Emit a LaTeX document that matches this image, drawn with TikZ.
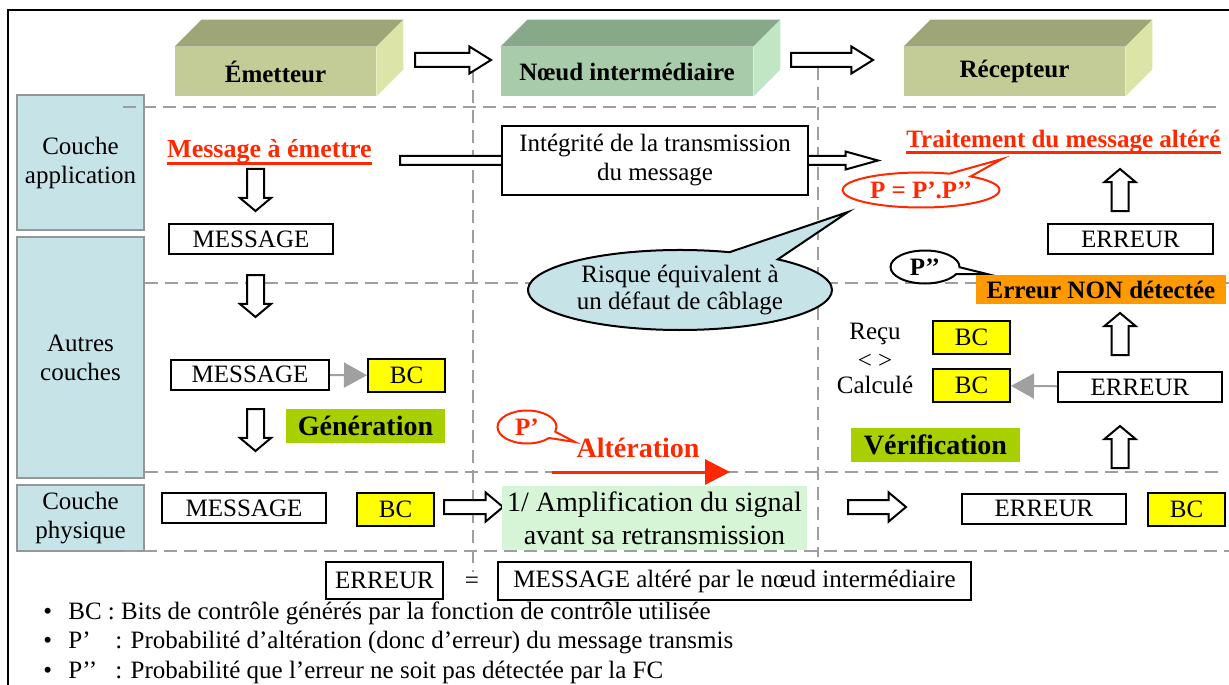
\documentclass[tikz,border=0pt]{standalone}
\usepackage{fontspec}
\setmainfont{Liberation Serif}
\usetikzlibrary{shapes.geometric, shapes.callouts, shapes.arrows, arrows.meta}

\definecolor{layerBlue}{RGB}{198,228,232}
\definecolor{layerGray}{RGB}{150,150,150}
\definecolor{dashGray}{RGB}{158,158,158}
\definecolor{oliveFront}{RGB}{195,204,150}
\definecolor{oliveTop}{RGB}{158,166,120}
\definecolor{oliveSide}{RGB}{221,228,168}
\definecolor{greenFront}{RGB}{168,204,170}
\definecolor{greenTop}{RGB}{136,168,138}
\definecolor{greenSide}{RGB}{192,230,196}
\definecolor{bcYellow}{RGB}{255,255,0}
\definecolor{tagGreen}{RGB}{168,208,0}
\definecolor{ampGreen}{RGB}{214,245,214}
\definecolor{alertOrange}{RGB}{255,153,0}
\definecolor{alertRed}{RGB}{255,40,0}
\definecolor{arrowGray}{RGB}{160,160,160}

\def\cubedepth{27}
\def\textsize{\fontsize{12.5}{14.5}\selectfont}
\def\tagsize{\fontsize{14}{16.5}\selectfont\bfseries}

\tikzstyle{layerbox}=[draw=layerGray, line width=1pt, fill=layerBlue, align=center, minimum width=63.5pt]
\tikzstyle{header}=[font=\textsize\bfseries, inner sep=0pt, minimum height=24.5pt]
\tikzstyle{plainbox}=[draw=black, line width=1pt, fill=white, inner sep=0pt, minimum height=15pt]
\tikzstyle{msgbox}=[plainbox, minimum width=82pt]
\tikzstyle{bcbox}=[plainbox, fill=bcYellow, minimum width=38.5pt, minimum height=16.5pt]
\tikzstyle{phase}=[font=\tagsize, fill=tagGreen, inner sep=0pt, minimum height=17pt]
\tikzstyle{redtitle}=[font=\fontsize{13}{15}\selectfont\bfseries, text=alertRed, inner sep=0pt]
\tikzstyle{underbar}=[draw=alertRed, line width=1.5pt]
\tikzstyle{dashline}=[draw=dashGray, line width=1pt, dash pattern=on 6.5pt off 3.5pt]
\tikzstyle{blockarrow}=[single arrow, draw=black, line width=1pt, fill=white, inner xsep=0pt, minimum width=0pt, anchor=tail]
\tikzstyle{flatarrow}=[blockarrow, inner ysep=3pt, single arrow head extend=3.25pt, single arrow tip angle=64]
\tikzstyle{vertarrow}=[blockarrow, inner ysep=3.75pt, single arrow head extend=3.5pt, single arrow tip angle=100, minimum height=21pt]
\tikzstyle{grayarrow}=[draw=arrowGray, line width=1pt, -{Triangle[length=11.5pt, width=12.5pt]}]
\tikzstyle{bubble}=[ellipse callout, draw=black, line width=1pt, fill=white, inner sep=0pt, callout pointer arc=25]

\begin{document}
\begin{tikzpicture}[x=0.5pt, y=-0.5pt, font=\textsize]
  \useasboundingbox (0,0) rectangle (1229,684);
  \clip (0,0) rectangle (1229,684);
  % outer frame
  \draw [line width=1pt] (8,10) rectangle (1260,720);

  % layers
  \node [layerbox, minimum height=67.5pt] (layer-app) at (80.5,162.5) {Couche\\application};
  \node [layerbox, minimum height=120.5pt] (layer-other) at (80.5,357.5) {Autres\\couches};
  \node [layerbox, minimum height=33pt] (layer-phys) at (80.5,518) {Couche\\physique};

  % separators
  \foreach \yy/\xa/\xb in {107/123/1217, 283/145/1229, 472/145/1218, 551/124/1229}
    \draw [dashline] (\xa,\yy) -- (\xb,\yy);
  \foreach \xx/\ya/\yb in {473/70/572, 818/67/557}
    \draw [dashline] (\xx,\ya) -- (\xx,\yb);

  % stations
  \node [header, fill=oliveFront, minimum width=100.5pt] (emetteur) at (275.5,71.5) {Émetteur};
  \node [header, fill=greenFront, minimum width=126pt] (noeud) at (627,71.5) {Nœud intermédiaire};
  \node [header, fill=oliveFront, minimum width=110.5pt] (recepteur) at (1014.5,71.5) {Récepteur};
  \foreach \h/\col in {emetteur/olive, noeud/green, recepteur/olive}
  {
    \fill [fill=\col Top] (\h.north west) -- ++(\cubedepth,-\cubedepth)
      -- ([shift={(\cubedepth,-\cubedepth)}]\h.north east) -- (\h.north east) -- cycle;
    \fill [fill=\col Side] (\h.north east) -- ++(\cubedepth,-\cubedepth)
      -- ([shift={(\cubedepth,-\cubedepth)}]\h.south east) -- (\h.south east) -- cycle;
  }
  \node [flatarrow, minimum height=38pt] (flow-1) at (414,60) {};
  \node [flatarrow, minimum height=41pt] (flow-2) at (790,60) {};

  % emetteur column
  \node [redtitle, anchor=base] (msg-emit) at (269.5,158) {Message à émettre};
  \draw [underbar] ([yshift=-2.75pt]msg-emit.base west) -- ([yshift=-2.75pt]msg-emit.base east);
  \foreach \n/\yy in {1/168, 2/274, 3/408}
    \node [vertarrow, rotate=-90] (down-\n) at (255.5,\yy) {};
  \node [msgbox] (msg-1) at (251,239) {MESSAGE};
  \node [msgbox, minimum width=79pt] (msg-2) at (250,374.5) {MESSAGE};
  \node [bcbox] (bc-1) at (406.5,375.5) {BC};
  \draw [grayarrow] (msg-2) -- (bc-1);
  \node [phase, minimum width=79.5pt] (generation) at (365.5,425.5) {Génération};

  % physical layer
  \node [msgbox] (msg-3) at (244,508) {MESSAGE};
  \node [bcbox] (bc-2) at (395.5,509) {BC};
  \node [flatarrow, minimum height=29.5pt, single arrow head extend=3.75pt, single arrow tip angle=80] (send-1) at (443,507) {};
  \coordinate (alt-start) at (552,472);
  \coordinate (alt-end) at (730,472);
  \draw [draw=alertRed, line width=1.5pt, -{Triangle[length=12.5pt, width=12.5pt]}] (alt-start) -- (alt-end);
  \node [fill=ampGreen, font=\fontsize{14}{16.5}\selectfont, align=center, inner sep=0pt,
    minimum width=152.5pt, minimum height=32pt] (amp) at (654.5,518) {1/ Amplification du signal\\avant sa retransmission};
  \node [flatarrow, minimum height=29pt, single arrow head extend=3.75pt, single arrow tip angle=80] (send-2) at (847,507) {};
  \node [msgbox] (err-3) at (1044,508.5) {ERREUR};
  \node [bcbox] (bc-5) at (1186.5,509.5) {BC};

  % alteration
  \node [font=\fontsize{14}{16}\selectfont\bfseries, text=alertRed] (alteration) at (638,448) {Altération};
  \coordinate (p1-tip) at (575,442);
  \node [bubble, draw=alertRed, text=alertRed, font=\textsize\bfseries, minimum width=29.5pt, minimum height=16.5pt,
    callout absolute pointer={(p1-tip)}] (p1) at (527,427) {P’};

  % integrity
  \node [blockarrow, inner ysep=1.75pt, single arrow head extend=2.25pt, single arrow tip angle=31,
    minimum height=239pt] (integ-arrow) at (399,160.5) {};
  \node [plainbox, align=center, minimum width=153pt, minimum height=34.5pt] (integ) at (655,160.5) {Intégrité de la transmission\\du message};
  \coordinate (risk-tip) at (848,212);
  \node [bubble, fill=layerBlue, align=center, font=\fontsize{12.5}{13.5}\selectfont, minimum width=152pt, minimum height=40pt,
    callout pointer arc=21, callout absolute pointer={(risk-tip)}] (risk) at (680,290) {Risque équivalent à\\un défaut de câblage};

  % recepteur column
  \node [redtitle, font=\fontsize{12.5}{15}\selectfont\bfseries, anchor=base west] (msg-recv) at (906,148) {Traitement du message altéré};
  \draw [underbar] ([yshift=-2.25pt]msg-recv.base west) -- ([yshift=-2.25pt]msg-recv.base east);
  \coordinate (p-tip) at (1002,159);
  \node [bubble, draw=alertRed, text=alertRed, font=\textsize\bfseries, minimum width=78.5pt, minimum height=17.5pt,
    callout pointer arc=18, callout absolute pointer={(p-tip)}] (p) at (921,190) {P = P’.P’’};
  \foreach \n/\yy in {1/212, 2/356, 3/469}
    \node [vertarrow, rotate=90] (up-\n) at (1120,\yy) {};
  \node [msgbox, minimum width=82.5pt] (err-1) at (1130.5,239) {ERREUR};
  \coordinate (p2-tip) at (987,274);
  \node [bubble, font=\textsize\bfseries, minimum width=34.5pt, minimum height=16.5pt,
    callout absolute pointer={(p2-tip)}] (p2) at (925,267) {P’’};
  \node [fill=alertOrange, font=\textsize\bfseries, inner sep=0pt, minimum width=125pt, minimum height=14.5pt] (undetected) at (1101,289.5) {Erreur NON détectée};
  \node (recu) at (875,334) {Reçu};
  \node (differ) at (875,361) {< >};
  \node (calcule) at (875,385) {Calculé};
  \node [bcbox] (bc-3) at (971.5,337) {BC};
  \node [bcbox] (bc-4) at (971.5,385.5) {BC};
  \node [msgbox] (err-2) at (1140,387) {ERREUR};
  \draw [grayarrow] (err-2) -- (bc-4);
  \node [phase, minimum width=84.5pt] (verification) at (935.5,445) {Vérification};

  % legend
  \node [msgbox, minimum width=58.5pt, minimum height=18.5pt] (err-def) at (384.5,580.5) {ERREUR};
  \node (equals) at (472,583) {=};
  \node [plainbox, minimum width=236.5pt, minimum height=19pt] (err-meaning) at (734.5,581) {MESSAGE altéré par le nœud intermédiaire};
  \foreach \n/\yy/\txt in {1/619/{BC : Bits de contrôle générés par la fonction de contrôle utilisée},
    2/648.5/{\makebox[23.5pt][l]{P’}: Probabilité d’altération (donc d’erreur) du message transmis},
    3/678/{\makebox[23.5pt][l]{P’’}: Probabilité que l’erreur ne soit pas détectée par la FC}}
    \node [anchor=base west, inner sep=0pt] (note-\n) at (43,\yy) {\makebox[12.5pt][l]{•}\txt};
\end{tikzpicture}
\end{document}
